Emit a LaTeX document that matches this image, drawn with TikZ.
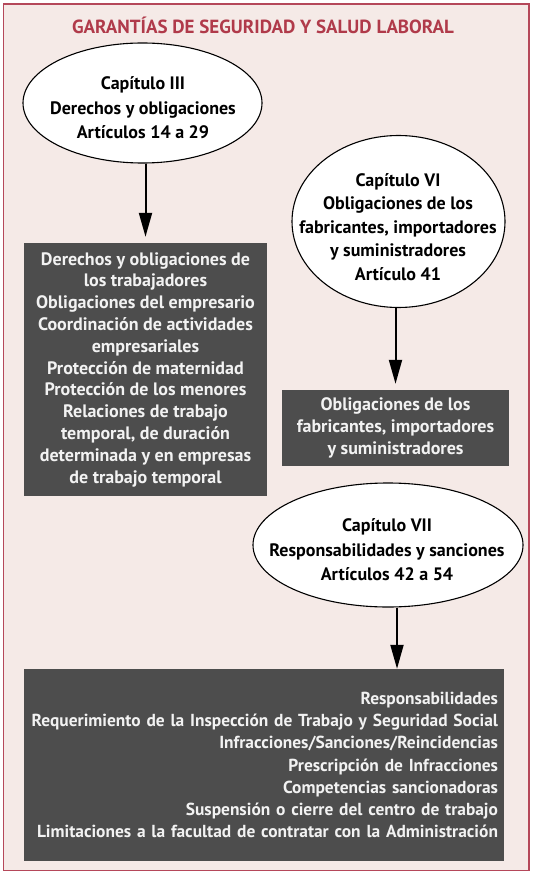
\documentclass[tikz,border=0pt]{standalone}
\usepackage{fontspec}
\setmainfont{PT Sans}
\usetikzlibrary{shapes.geometric,arrows.meta,calc}
\definecolor{bgpink}{HTML}{F5EAE7}
\definecolor{frame}{HTML}{B5485A}
\definecolor{titlered}{HTML}{B03A4A}
\definecolor{boxgray}{HTML}{4D4D4D}
\definecolor{boxtext}{HTML}{F2F2F2}
\tikzset{
  chap/.style={ellipse, draw=black, line width=1.1pt, fill=white, inner sep=0pt},
  chaptext/.style={align=center, inner sep=0pt, text=black,
    font=\fontsize{18}{24.5}\selectfont\bfseries},
  graybox/.style={rectangle, fill=boxgray, inner sep=0pt, text=boxtext,
    font=\fontsize{18}{21.8}\selectfont\bfseries},
  arr/.style={line width=2pt, -{Triangle[length=24pt,width=13pt]}}
}
\begin{document}
\begin{tikzpicture}[x=1pt,y=-1pt]
\useasboundingbox (0,0) rectangle (532,874);
\draw[frame, fill=bgpink, line width=1.5pt] (3.5,4) rectangle (529,870.5);
\node[text=titlered, font=\fontsize{19}{21}\selectfont\bfseries] (title) at (263,25) {GARANTÍAS DE SEGURIDAD Y SALUD LABORAL};
\node[chap, minimum width=239pt, minimum height=120pt] (e1) at (142.5,103) {};
\node[chaptext] (e1t) at (143,108)
  {Capítulo III\\Derechos y obligaciones\\Artículos 14 a 29};
\node[chap, minimum width=213pt, minimum height=172pt] (e2) at (398.5,221.5) {};
\node[chaptext, font=\fontsize{18}{23.5}\selectfont\bfseries] (e2t) at (398,227)
  {Capítulo VI\\Obligaciones de los\\fabricantes, importadores\\y suministradores\\Artículo 41};
\node[chap, minimum width=270pt, minimum height=124pt] (e3) at (388,545) {};
\node[chaptext] (e3t) at (387,550)
  {Capítulo VII\\Responsabilidades y sanciones\\Artículos 42 a 54};
\node[graybox, minimum width=243pt, minimum height=253pt, align=center] (b1) at (145.5,369.5)
  {Derechos y obligaciones de\\los trabajadores\\Obligaciones del empresario\\Coordinación de actividades\\empresariales\\Protección de maternidad\\Protección de los menores\\Relaciones de trabajo\\temporal, de duración\\determinada y en empresas\\de trabajo temporal};
\node[graybox, minimum width=227pt, minimum height=76pt, align=center, font=\fontsize{18}{22}\selectfont\bfseries] (b2) at (395.5,428)
  {Obligaciones de los\\fabricantes, importadores\\y suministradores};
\node[graybox, minimum width=480pt, minimum height=192pt, inner xsep=6pt, text width=468pt, align=right, font=\fontsize{17.4}{22.2}\selectfont\bfseries] (b3) at (264,765)
  {Responsabilidades\\Requerimiento de la Inspección de Trabajo y Seguridad Social\\Infracciones/Sanciones/Reincidencias\\Prescripción de Infracciones\\Competencias sancionadoras\\Suspensión o cierre del centro de trabajo\\Limitaciones a la facultad de contratar con la Administración};
\draw[arr, shorten >=6pt] (b1.north |- e1.south) -- (b1.north);
\draw[arr, shorten >=6pt] (b2.north |- e2.south) -- (b2.north);
\draw[arr] ([xshift=9pt]e3.south) -- ([xshift=9pt]e3.south |- b3.north);
\end{tikzpicture}
\end{document}
